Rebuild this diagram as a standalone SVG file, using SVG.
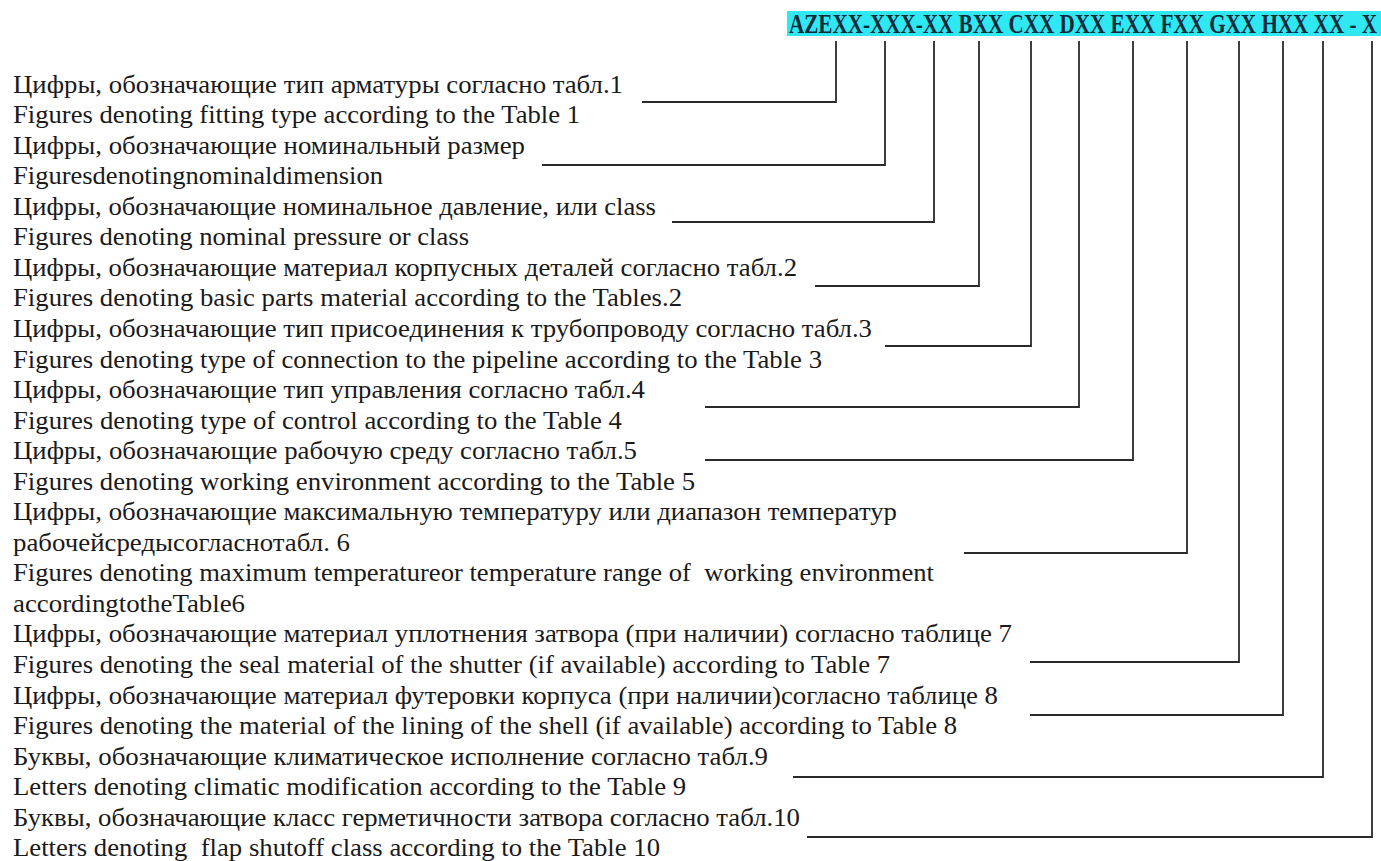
<svg xmlns="http://www.w3.org/2000/svg" width="1381" height="861" viewBox="0 0 1381 861">
<style>
.t{font-family:"Liberation Serif","Times New Roman",serif;font-size:26px;fill:#1a1a1a;white-space:pre}
.h{font-family:"Liberation Serif","Times New Roman",serif;font-size:19.6px;font-weight:bold;fill:#0d2b3a}
.c{fill:none;stroke:#2a2a2a;stroke-width:1.8}
</style>
<rect width="1381" height="861" fill="#ffffff"/>
<g id="code">
<rect x="787" y="11" width="594" height="25" fill="#30e8f2"/>
<text class="h" transform="translate(789,33) scale(1,1.38)" x="0" y="0" textLength="588" lengthAdjust="spacingAndGlyphs">AZEXX-XXX-XX BXX CXX DXX EXX FXX GXX HXX XX - X</text>
</g>
<g id="label-type">
<text class="t" x="13" y="92.5" textLength="610" lengthAdjust="spacingAndGlyphs">Цифры, обозначающие тип арматуры согласно табл.1</text>
<text class="t" x="13" y="123" textLength="567" lengthAdjust="spacingAndGlyphs">Figures denoting fitting type according to the Table 1</text>
</g>
<g id="label-size">
<text class="t" x="13" y="153.6" textLength="512" lengthAdjust="spacingAndGlyphs">Цифры, обозначающие номинальный размер</text>
<text class="t" x="13" y="184.2" textLength="370" lengthAdjust="spacingAndGlyphs">Figuresdenotingnominaldimension</text>
</g>
<g id="label-pressure">
<text class="t" x="13" y="214.7" textLength="643" lengthAdjust="spacingAndGlyphs">Цифры, обозначающие номинальное давление, или class</text>
<text class="t" x="13" y="245.3" textLength="456" lengthAdjust="spacingAndGlyphs">Figures denoting nominal pressure or class</text>
</g>
<g id="label-material">
<text class="t" x="13" y="275.8" textLength="784" lengthAdjust="spacingAndGlyphs">Цифры, обозначающие материал корпусных деталей согласно табл.2</text>
<text class="t" x="13" y="306.4" textLength="669" lengthAdjust="spacingAndGlyphs">Figures denoting basic parts material according to the Tables.2</text>
</g>
<g id="label-connection">
<text class="t" x="13" y="336.9" textLength="859" lengthAdjust="spacingAndGlyphs">Цифры, обозначающие тип присоединения к трубопроводу согласно табл.3</text>
<text class="t" x="13" y="367.5" textLength="809" lengthAdjust="spacingAndGlyphs">Figures denoting type of connection to the pipeline according to the Table 3</text>
</g>
<g id="label-control">
<text class="t" x="13" y="398" textLength="632" lengthAdjust="spacingAndGlyphs">Цифры, обозначающие тип управления согласно табл.4</text>
<text class="t" x="13" y="428.6" textLength="609" lengthAdjust="spacingAndGlyphs">Figures denoting type of control according to the Table 4</text>
</g>
<g id="label-environment">
<text class="t" x="13" y="459.1" textLength="624" lengthAdjust="spacingAndGlyphs">Цифры, обозначающие рабочую среду согласно табл.5</text>
<text class="t" x="13" y="489.7" textLength="682" lengthAdjust="spacingAndGlyphs">Figures denoting working environment according to the Table 5</text>
</g>
<g id="label-temperature">
<text class="t" x="13" y="520.2" textLength="884" lengthAdjust="spacingAndGlyphs">Цифры, обозначающие максимальную температуру или диапазон температур</text>
<text class="t" x="13" y="550.8" textLength="337" lengthAdjust="spacingAndGlyphs">рабочейсредысогласнотабл. 6</text>
<text class="t" x="13" y="581.3" textLength="921" lengthAdjust="spacingAndGlyphs">Figures denoting maximum temperatureor temperature range of  working environment</text>
<text class="t" x="13" y="611.9" textLength="232" lengthAdjust="spacingAndGlyphs">accordingtotheTable6</text>
</g>
<g id="label-seal">
<text class="t" x="13" y="642.4" textLength="999" lengthAdjust="spacingAndGlyphs">Цифры, обозначающие материал уплотнения затвора (при наличии) согласно таблице 7</text>
<text class="t" x="13" y="673" textLength="877" lengthAdjust="spacingAndGlyphs">Figures denoting the seal material of the shutter (if available) according to Table 7</text>
</g>
<g id="label-lining">
<text class="t" x="13" y="703.5" textLength="985" lengthAdjust="spacingAndGlyphs">Цифры, обозначающие материал футеровки корпуса (при наличии)согласно таблице 8</text>
<text class="t" x="13" y="734.1" textLength="944" lengthAdjust="spacingAndGlyphs">Figures denoting the material of the lining of the shell (if available) according to Table 8</text>
</g>
<g id="label-climatic">
<text class="t" x="13" y="764.6" textLength="755" lengthAdjust="spacingAndGlyphs">Буквы, обозначающие климатическое исполнение согласно табл.9</text>
<text class="t" x="13" y="795.2" textLength="673" lengthAdjust="spacingAndGlyphs">Letters denoting climatic modification according to the Table 9</text>
</g>
<g id="label-tightness">
<text class="t" x="13" y="825.7" textLength="787" lengthAdjust="spacingAndGlyphs">Буквы, обозначающие класс герметичности затвора согласно табл.10</text>
<text class="t" x="13" y="856.3" textLength="647" lengthAdjust="spacingAndGlyphs">Letters denoting  flap shutoff class according to the Table 10</text>
</g>
<g id="connectors">
<polyline class="c" points="642,102 836,102 836,41"/>
<polyline class="c" points="542,165 885,165 885,41"/>
<polyline class="c" points="672,222 934,222 934,41"/>
<polyline class="c" points="815,286 979,286 979,41"/>
<polyline class="c" points="885,346 1031,346 1031,41"/>
<polyline class="c" points="705,407 1079,407 1079,41"/>
<polyline class="c" points="705,460 1133,460 1133,41"/>
<polyline class="c" points="964,553 1187,553 1187,41"/>
<polyline class="c" points="1030,662 1239,662 1239,41"/>
<polyline class="c" points="1030,715 1283,715 1283,41"/>
<polyline class="c" points="793,777 1323,777 1323,41"/>
<polyline class="c" points="807,837 1372,837 1372,41"/>
</g>
</svg>
